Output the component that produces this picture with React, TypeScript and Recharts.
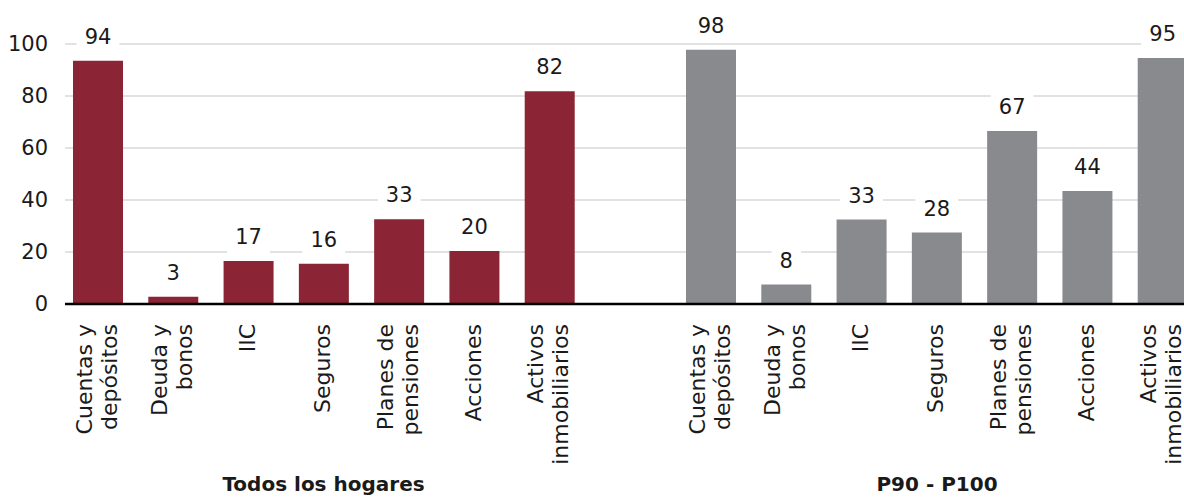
import { Bar, BarChart, CartesianGrid, LabelList, XAxis, YAxis } from "recharts";

const categories = [
  "Cuentas y\ndepósitos",
  "Deuda y\nbonos",
  "IIC",
  "Seguros",
  "Planes de\npensiones",
  "Acciones",
  "Activos\ninmobiliarios"
];
const todosValues = [93.6, 2.8, 16.5, 15.5, 32.6, 20.4, 81.8];
const p90Values = [97.8, 7.5, 32.5, 27.5, 66.5, 43.5, 94.6];
const groupLabels = ["Todos los hogares", "P90 - P100"];
const yTicks = [0, 20, 40, 60, 80, 100];

const todosData = categories.map((name, i) => ({ name, value: todosValues[i] }));
const p90Data = categories.map((name, i) => ({ name, value: p90Values[i] }));

const FONT = "'DejaVu Sans', sans-serif";
const TEXT = "#1a1a1a";
const MAROON = "#8B2535";
const GREY = "#898A8D";
const GRID = "#D9D9D9";

function CategoryTick(props: any) {
  const { x, y, payload } = props;
  const lines = String(payload.value).split("\n");
  const mid = (lines.length - 1) / 2;
  return (
    <g transform={`translate(${x},${y}) rotate(-90)`}>
      {lines.map((line, i) => (
        <text
          key={i}
          x={-20}
          y={(i - mid) * 25 - 1}
          textAnchor="end"
          dominantBaseline="central"
          fontSize={22}
          fill={TEXT}
          fontFamily={FONT}
        >
          {line}
        </text>
      ))}
    </g>
  );
}

function ValueLabel(props: any) {
  const box = props.viewBox ?? props;
  const { x, y, width } = box;
  const text = String(Math.round(Number(props.value)));
  const cx = x + width / 2;
  const cy = y - 24;
  const w = text.length * 13.4 + 16;
  return (
    <g>
      <rect x={cx - w / 2} y={cy - 17} width={w} height={34} fill="#fff" />
      <text
        x={cx}
        y={cy}
        textAnchor="middle"
        dominantBaseline="central"
        fontSize={21}
        fill={TEXT}
        fontFamily={FONT}
      >
        {text}
      </text>
    </g>
  );
}

const axisLine = { stroke: "#000", strokeWidth: 2.5 };

export default function App() {
  return (
    <div
      style={{
        position: "fixed",
        left: 0,
        top: 0,
        width: 1184,
        height: 497,
        overflow: "hidden",
        background: "#fff",
        fontFamily: FONT
      }}
    >
      <div style={{ position: "absolute", left: 0, top: 0 }}>
        <BarChart width={587} height={497} data={todosData} margin={{ top: 44, right: 0, bottom: 0, left: 0 }}>
          <CartesianGrid vertical={false} stroke={GRID} strokeWidth={1.5} />
          <XAxis
            dataKey="name"
            interval={0}
            height={193}
            tickLine={false}
            tickSize={0}
            tickMargin={0}
            axisLine={axisLine}
            tick={(p: any) => <CategoryTick {...p} />}
            padding={{ left: -5, right: 0 }}
          />
          <YAxis
            domain={[0, 100]}
            ticks={yTicks}
            width={65}
            axisLine={false}
            tickLine={false}
            tickSize={0}
            tickMargin={17}
            tick={{ fontSize: 21, fill: TEXT, fontFamily: FONT }}
          />
          <Bar dataKey="value" fill={MAROON} barSize={50} isAnimationActive={false}>
            <LabelList dataKey="value" content={(p: any) => <ValueLabel {...p} />} />
          </Bar>
        </BarChart>
      </div>
      <div style={{ position: "absolute", left: 587, top: 0 }}>
        <BarChart width={613} height={497} data={p90Data} margin={{ top: 44, right: 0, bottom: 0, left: 0 }}>
          <CartesianGrid vertical={false} stroke={GRID} strokeWidth={1.5} />
          <XAxis
            dataKey="name"
            interval={0}
            height={193}
            tickLine={false}
            tickSize={0}
            tickMargin={0}
            axisLine={axisLine}
            tick={(p: any) => <CategoryTick {...p} />}
            padding={{ left: 86, right: 0 }}
          />
          <YAxis domain={[0, 100]} ticks={yTicks} hide />
          <Bar dataKey="value" fill={GREY} barSize={50} isAnimationActive={false}>
            <LabelList dataKey="value" content={(p: any) => <ValueLabel {...p} />} />
          </Bar>
        </BarChart>
      </div>
      {groupLabels.map((label, i) => (
        <div
          key={label}
          style={{
            position: "absolute",
            left: i === 0 ? 323.5 : 937,
            top: 474,
            transform: "translateX(-50%)",
            fontSize: 20,
            lineHeight: "20px",
            fontWeight: "bold",
            color: TEXT,
            whiteSpace: "nowrap"
          }}
        >
          {label}
        </div>
      ))}
    </div>
  );
}
